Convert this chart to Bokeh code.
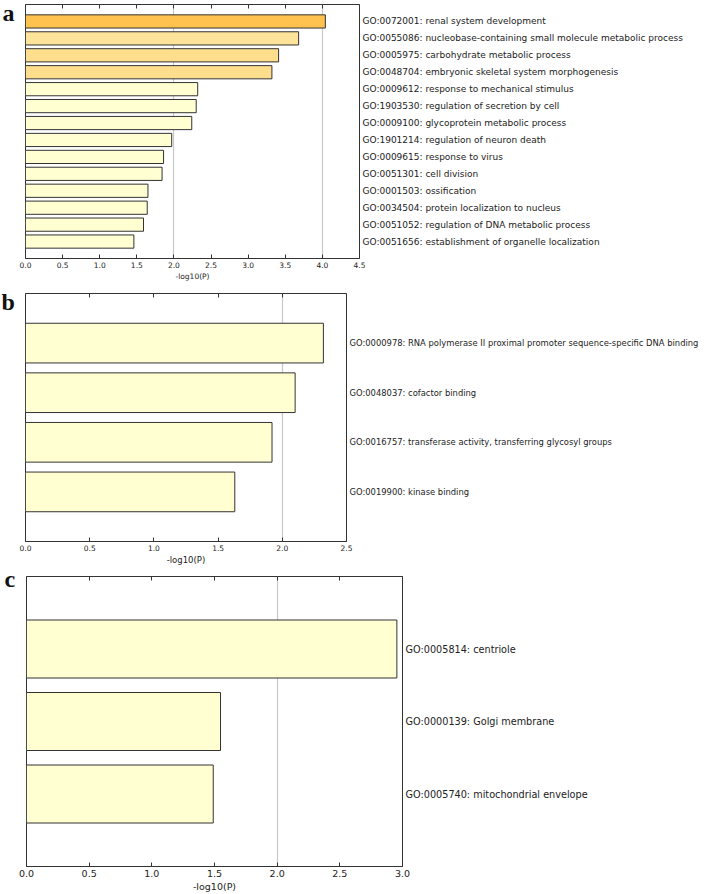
from bokeh.plotting import figure
from bokeh.models import (ColumnDataSource, FactorRange, Range1d, FixedTicker,
                          LinearAxis, PrintfTickFormatter, Label,
                          CustomLabelingPolicy)
from bokeh.embed import file_html
from bokeh.resources import INLINE

# ---------------- data ----------------
terms_a = [
    "GO:0072001: renal system development",
    "GO:0055086: nucleobase-containing small molecule metabolic process",
    "GO:0005975: carbohydrate metabolic process",
    "GO:0048704: embryonic skeletal system morphogenesis",
    "GO:0009612: response to mechanical stimulus",
    "GO:1903530: regulation of secretion by cell",
    "GO:0009100: glycoprotein metabolic process",
    "GO:1901214: regulation of neuron death",
    "GO:0009615: response to virus",
    "GO:0051301: cell division",
    "GO:0001503: ossification",
    "GO:0034504: protein localization to nucleus",
    "GO:0051052: regulation of DNA metabolic process",
    "GO:0051656: establishment of organelle localization",
]
values_a = [4.04, 3.68, 3.41, 3.32, 2.32, 2.30, 2.24, 1.97, 1.86, 1.84, 1.65, 1.64, 1.59, 1.46]
colors_a = ["#FFC24E", "#FEE39A", "#FDDE8C", "#FDDE8C"] + ["#FFFFD2"] * 10

terms_b = [
    "GO:0000978: RNA polymerase II proximal promoter sequence-specific DNA binding",
    "GO:0048037: cofactor binding",
    "GO:0016757: transferase activity, transferring glycosyl groups",
    "GO:0019900: kinase binding",
]
values_b = [2.32, 2.10, 1.92, 1.63]
colors_b = ["#FFFFD2"] * 4

terms_c = [
    "GO:0005814: centriole",
    "GO:0000139: Golgi membrane",
    "GO:0005740: mitochondrial envelope",
]
values_c = [2.955, 1.548, 1.49]
colors_c = ["#FFFFD2"] * 3

ticks_a = [0.0, 0.5, 1.0, 1.5, 2.0, 2.5, 3.0, 3.5, 4.0, 4.5]
ticks_b = [0.0, 0.5, 1.0, 1.5, 2.0, 2.5]
ticks_c = [0.0, 0.5, 1.0, 1.5, 2.0, 2.5, 3.0]
grid_a = [2.0, 4.0]
grid_b = [2.0]
grid_c = [2.0]

AXIS_LABEL = "-log10(P)"
FONT = "DejaVu Sans"
EDGE = "#333333"

NO_LABELS = CustomLabelingPolicy(code="""
    for (const i of Array.from(indices)) indices.unset(i)
    return indices
""")


def make_panel(terms, values, colors, ticks, grid, bar_h, letter,
               height, b_left, b_right, b_top, b_bottom,
               tick_fs, label_fs, term_fs, letter_y):
    src = ColumnDataSource(dict(term=terms, value=values, color=colors))
    p = figure(width=709, height=height,
               x_range=Range1d(ticks[0], ticks[-1]),
               y_range=FactorRange(factors=list(reversed(terms)),
                                   range_padding=0.5,
                                   range_padding_units="absolute"),
               y_axis_location="right",
               min_border_left=b_left, min_border_right=b_right,
               min_border_top=b_top, min_border_bottom=b_bottom,
               output_backend="svg", toolbar_location=None)
    p.hbar(y="term", left=0, right="value", height=bar_h, source=src,
           fill_color="color", line_color=EDGE, line_width=1)

    p.outline_line_color = EDGE
    p.outline_line_width = 1
    p.outline_line_alpha = 1

    p.ygrid.visible = False
    p.xgrid.ticker = FixedTicker(ticks=grid)
    p.xgrid.grid_line_color = "#c8c8c8"
    p.xgrid.grid_line_width = 1.2

    xa = p.xaxis[0]
    xa.ticker = FixedTicker(ticks=ticks)
    xa.formatter = PrintfTickFormatter(format="%.1f")
    xa.major_tick_in = 4
    xa.major_tick_out = 0
    xa.major_tick_line_color = EDGE
    xa.minor_tick_line_color = None
    xa.axis_line_color = EDGE
    xa.major_label_standoff = 3
    xa.major_label_text_font = FONT
    xa.major_label_text_font_size = tick_fs
    xa.major_label_text_color = "#222222"
    xa.axis_label = AXIS_LABEL
    xa.axis_label_text_font = FONT
    xa.axis_label_text_font_size = label_fs
    xa.axis_label_text_font_style = "normal"
    xa.axis_label_text_color = "#222222"
    xa.axis_label_standoff = 1

    top = LinearAxis(ticker=FixedTicker(ticks=ticks),
                     major_label_policy=NO_LABELS,
                     major_label_text_font_size="1px",
                     major_label_standoff=0,
                     major_tick_in=4, major_tick_out=0,
                     major_tick_line_color=EDGE,
                     minor_tick_line_color=None,
                     axis_line_color=None)
    p.add_layout(top, "above")

    ya = p.yaxis[0]
    ya.axis_line_color = None
    ya.major_tick_line_color = None
    ya.minor_tick_line_color = None
    ya.major_tick_in = 0
    ya.major_tick_out = 0
    ya.major_label_standoff = 3
    ya.major_label_text_font = FONT
    ya.major_label_text_font_size = term_fs
    ya.major_label_text_color = "#222222"

    p.add_layout(Label(x=-11, y=letter_y, x_units="screen", y_units="screen",
                       text=letter, text_font="Liberation Serif",
                       text_font_style="bold", text_font_size="24px",
                       text_color="#111111", text_baseline="alphabetic",
                       text_align="left"), "left")
    return p


pa = make_panel(terms_a, values_a, colors_a, ticks_a, grid_a, 0.78, "a",
                height=285, b_left=25, b_right=350, b_top=1, b_bottom=27,
                tick_fs="7.5px", label_fs="7.5px", term_fs="9px", letter_y=246)
pb = make_panel(terms_b, values_b, colors_b, ticks_b, grid_b, 0.8, "b",
                height=282, b_left=25, b_right=363, b_top=8, b_bottom=26,
                tick_fs="7.5px", label_fs="8.5px", term_fs="8.4px", letter_y=240)
pc = make_panel(terms_c, values_c, colors_c, ticks_c, grid_c, 0.8, "c",
                height=327, b_left=26, b_right=307, b_top=9, b_bottom=28,
                tick_fs="9.5px", label_fs="9.5px", term_fs="9.7px", letter_y=288)

open("out.html", "w").write(file_html([pa, pb, pc], INLINE))
